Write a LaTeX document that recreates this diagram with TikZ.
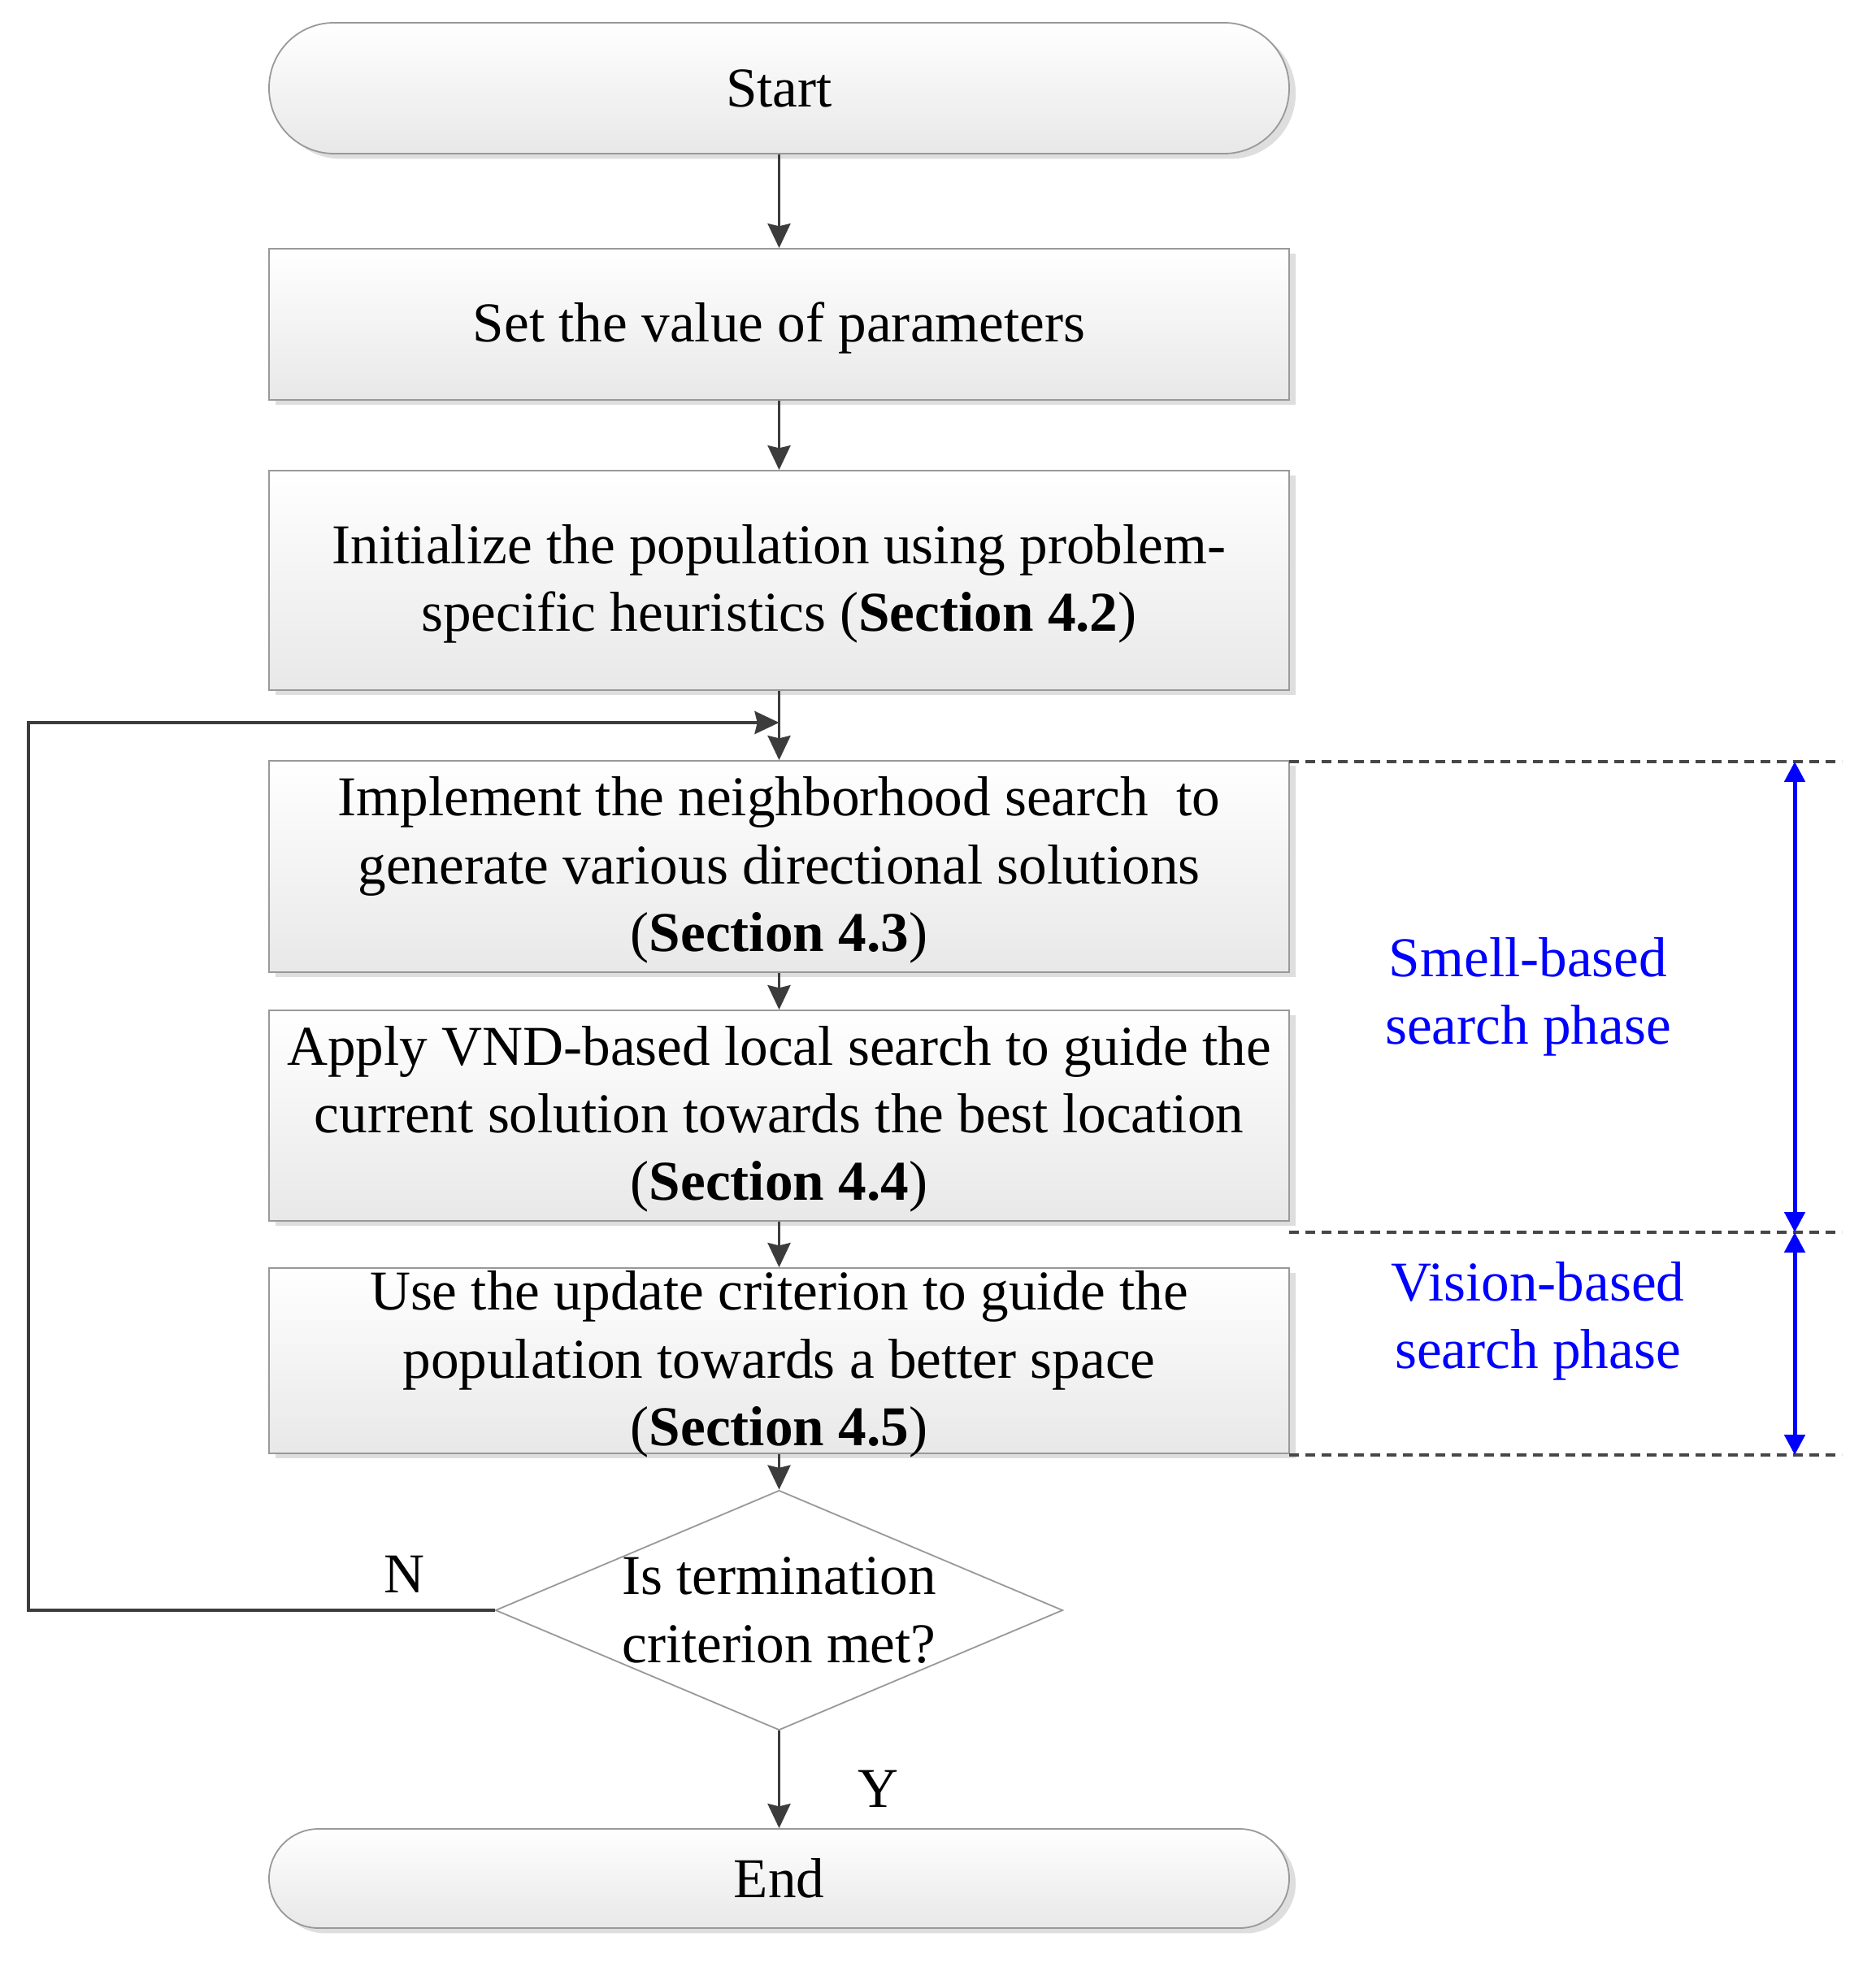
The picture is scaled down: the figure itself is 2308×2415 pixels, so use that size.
\documentclass[tikz,border=0pt]{standalone}
\usepackage{fontspec}
\setmainfont{Liberation Serif}
\usetikzlibrary{shapes.geometric,arrows.meta,shadows}
\definecolor{pblue}{RGB}{0,0,255}
\definecolor{arrgray}{RGB}{60,60,60}
\begin{document}
\begin{tikzpicture}[x=0.25pt,y=-0.25pt,
  every node/.style={font=\fontsize{17.3}{20.8}\selectfont},
  procbox/.style={draw=black!40, line width=0.45pt, top color=white, bottom color=black!9,
    minimum width=313.75pt, inner sep=0pt, align=center,
    drop shadow={shadow xshift=2pt,shadow yshift=-1.6pt,fill=black!13,opacity=1}},
  termbox/.style={procbox},
  boxtext/.style={align=center, inner sep=0pt},
  decbox/.style={diamond, draw=black!40, line width=0.45pt, fill=white,
    minimum width=174.5pt, minimum height=73.75pt, inner sep=0pt},
  arr/.style={draw=arrgray, line width=0.9pt, -{Stealth[length=7.5pt,width=7pt,inset=0.8pt]}},
  fbarr/.style={arr, line width=1pt},
  dashline/.style={draw=black!72, line width=0.85pt, dash pattern=on 3pt off 2pt},
  barr/.style={draw=pblue, line width=1.25pt, {Triangle[length=6.2pt,width=6.2pt]}-{Triangle[length=6.2pt,width=6.2pt]}},
  phase/.style={text=pblue, align=center}
]
\useasboundingbox (0,0) rectangle (2308,2415);

\node[termbox, minimum height=40.25pt, rounded corners=20pt] (start) at (958.5,108.5) {Start};
\node[procbox, minimum height=46.5pt] (p1) at (958.5,399) {};
\node[procbox, minimum height=67.5pt] (p2) at (958.5,714) {};
\node[procbox, minimum height=65pt] (p3) at (958.5,1066) {};
\node[procbox, minimum height=64.75pt] (p4) at (958.5,1372.5) {};
\node[procbox, minimum height=57pt] (p5) at (958.5,1674) {};
\node[boxtext] (t1) at ([yshift=-1.1pt]p1.center) {Set the value of parameters};
\node[boxtext] (t2) at ([yshift=-1.1pt]p2.center) {Initialize the population using problem-\\specific heuristics (\textbf{Section 4.2})};
\node[boxtext] (t3) at ([yshift=-1.1pt]p3.center) {Implement the neighborhood search~ to\\generate various directional solutions\\(\textbf{Section 4.3})};
\node[boxtext] (t4) at ([yshift=-1.1pt]p4.center) {Apply VND-based local search to guide the\\current solution towards the best location\\(\textbf{Section 4.4})};
\node[boxtext] (t5) at ([yshift=-1.1pt]p5.center) {Use the update criterion to guide the\\population towards a better space\\(\textbf{Section 4.5})};
\node[decbox] (dec) at (958.5,1981) {};
\node[boxtext] (dect) at (dec.center) {Is termination\\criterion met?};
\node[termbox, minimum height=30.5pt, rounded corners=15.25pt] (end) at (958.5,2311) {End};

\coordinate (j) at (958.5,889);
\coordinate (lc) at (35,1981);

\draw[arr] (start.south) -- (p1.north);
\draw[arr] (p1.south) -- (p2.north);
\draw[arr] (p2.south) -- (p3.north);
\draw[arr] (p3.south) -- (p4.north);
\draw[arr] (p4.south) -- (p5.north);
\draw[arr] (p5.south) -- (dec.north);
\draw[arr] (dec.south) -- (end.north);
\draw[fbarr] (dec.west) -- (lc) |- (j);

\node (nlab) at (497,1937) {N};
\node (ylab) at (1080,2201) {Y};

\coordinate (d1a) at (1586,937);
\coordinate (d1b) at (2266,937);
\coordinate (d2a) at (1586,1516);
\coordinate (d2b) at (2266,1516);
\coordinate (d3a) at (1586,1790);
\coordinate (d3b) at (2266,1790);
\draw[dashline] (d1a) -- (d1b);
\draw[dashline] (d2a) -- (d2b);
\draw[dashline] (d3a) -- (d3b);

\coordinate (b1) at (2208,937);
\coordinate (b2) at (2208,1516);
\coordinate (b3) at (2208,1790);
\draw[barr] (b1) -- (b2);
\draw[barr] (b2) -- (b3);

\node[phase] (smell) at (1880,1226) {Smell-based\\search phase};
\node[phase] (vision) at (1892,1625) {Vision-based\\search phase};
\end{tikzpicture}
\end{document}
